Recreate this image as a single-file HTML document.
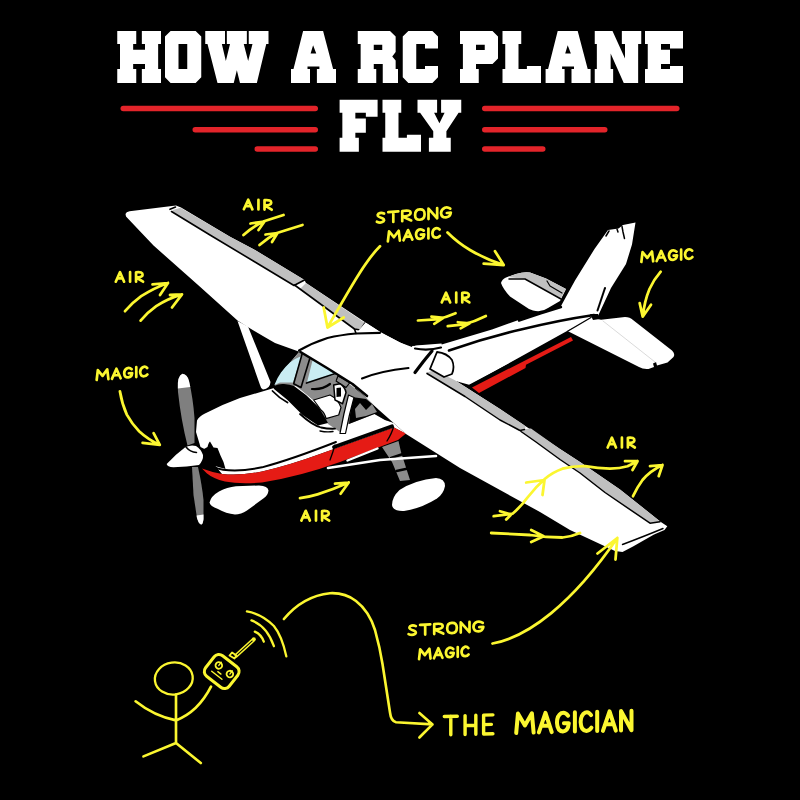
<!DOCTYPE html>
<html><head><meta charset="utf-8"><title>How a RC plane fly</title>
<style>html,body{margin:0;padding:0;background:#000;}body{width:800px;height:800px;overflow:hidden;font-family:"Liberation Sans",sans-serif;}svg{display:block}</style>
</head><body>
<svg width="800" height="800" viewBox="0 0 800 800">
<rect width="800" height="800" fill="#000"/>
<path d="M117.25,30.90 L136.25,30.90 L136.25,43.90 L133.15,43.90 L133.15,49.65 L145.00,49.65 L145.00,43.90 L141.85,43.90 L141.85,30.90 L161.00,30.90 L161.00,43.90 L158.15,43.90 L158.15,68.90 L161.00,68.90 L161.00,82.90 L141.85,82.90 L141.85,68.90 L145.00,68.90 L145.00,63.90 L133.15,63.90 L133.15,68.90 L136.25,68.90 L136.25,82.90 L117.25,82.90 L117.25,68.90 L120.00,68.90 L120.00,43.90 L117.25,43.90Z" fill="#fff" fill-rule="evenodd"/>
<path d="M170.60,30.90 L195.65,30.90 L201.25,36.50 L201.25,77.30 L195.65,82.90 L170.60,82.90 L165.00,77.30 L165.00,36.50Z M178.50,44.00 L178.50,69.00 L187.25,69.00 L187.25,44.00Z" fill="#fff" fill-rule="evenodd"/>
<path d="M205.25,30.90 L225.00,30.90 L225.00,43.90 L221.85,43.90 L225.85,60.90 L230.00,43.90 L226.85,43.90 L226.85,30.90 L246.85,30.90 L246.85,43.90 L243.75,43.90 L248.15,60.90 L252.50,43.90 L248.75,43.90 L248.75,30.90 L268.50,30.90 L268.50,43.90 L266.25,43.90 L256.85,82.90 L240.00,82.90 L236.85,70.30 L233.75,82.90 L217.50,82.90 L207.50,43.90 L205.25,43.90Z" fill="#fff" fill-rule="evenodd"/>
<path d="M303.10,30.90 L323.10,30.90 L333.10,68.90 L336.00,68.90 L336.00,82.90 L316.90,82.90 L316.90,68.90 L319.40,68.90 L319.40,66.50 L307.50,66.50 L307.50,68.90 L310.00,68.90 L310.00,82.90 L291.00,82.90 L291.00,68.90 L293.50,68.90Z M313.10,45.30 L310.60,53.40 L316.25,53.40Z" fill="#fff" fill-rule="evenodd"/>
<path d="M357.75,30.90 L390.00,30.90 L395.65,36.50 L395.65,51.90 L392.25,56.40 L395.65,60.40 L395.65,68.90 L398.00,68.90 L398.00,82.90 L382.75,82.90 L382.75,63.90 L373.75,63.90 L373.75,68.90 L376.25,68.90 L376.25,82.90 L357.75,82.90 L357.75,68.90 L360.65,68.90 L360.65,43.90 L357.75,43.90Z M373.75,44.65 L373.75,50.00 L382.25,50.00 L382.25,44.65Z" fill="#fff" fill-rule="evenodd"/>
<path d="M408.35,30.90 L432.40,30.90 L438.00,36.50 L438.00,48.40 L425.00,48.40 L425.00,44.00 L416.25,44.00 L416.25,69.00 L425.00,69.00 L425.00,65.90 L438.00,65.90 L438.00,77.30 L432.40,82.90 L408.35,82.90 L402.75,77.30 L402.75,36.50Z" fill="#fff" fill-rule="evenodd"/>
<path d="M460.00,30.90 L492.50,30.90 L498.00,36.50 L498.00,58.40 L492.50,64.00 L476.00,64.00 L476.00,68.90 L478.75,68.90 L478.75,82.90 L460.00,82.90 L460.00,68.90 L462.90,68.90 L462.90,43.90 L460.00,43.90Z M476.00,44.65 L476.00,50.00 L484.75,50.00 L484.75,44.65Z" fill="#fff" fill-rule="evenodd"/>
<path d="M502.50,30.90 L521.25,30.90 L521.25,43.90 L518.50,43.90 L518.50,68.90 L526.90,68.90 L526.90,65.90 L541.00,65.90 L541.00,82.90 L502.50,82.90 L502.50,68.90 L505.25,68.90 L505.25,43.90 L502.50,43.90Z" fill="#fff" fill-rule="evenodd"/>
<path d="M557.70,30.90 L577.70,30.90 L587.70,68.90 L590.60,68.90 L590.60,82.90 L571.50,82.90 L571.50,68.90 L574.00,68.90 L574.00,66.50 L562.10,66.50 L562.10,68.90 L564.60,68.90 L564.60,82.90 L545.60,82.90 L545.60,68.90 L548.10,68.90Z M567.70,45.30 L565.20,53.40 L570.85,53.40Z" fill="#fff" fill-rule="evenodd"/>
<path d="M594.75,30.90 L612.50,30.90 L625.00,58.40 L625.00,43.90 L621.85,43.90 L621.85,30.90 L641.25,30.90 L641.25,43.90 L638.15,43.90 L638.15,82.90 L623.75,82.90 L610.65,53.40 L610.65,68.90 L613.15,68.90 L613.15,82.90 L594.75,82.90 L594.75,68.90 L596.85,68.90 L596.85,43.90 L594.75,43.90Z" fill="#fff" fill-rule="evenodd"/>
<path d="M645.00,30.90 L683.00,30.90 L683.00,48.40 L670.00,48.40 L670.00,44.00 L661.00,44.00 L661.00,49.65 L670.00,49.65 L670.00,64.00 L661.00,64.00 L661.00,69.00 L670.00,69.00 L670.00,65.90 L683.00,65.90 L683.00,82.90 L645.00,82.90 L645.00,68.90 L647.75,68.90 L647.75,43.90 L645.00,43.90Z" fill="#fff" fill-rule="evenodd"/>
<path d="M339.60,99.70 L377.60,99.70 L377.60,116.70 L365.85,116.70 L365.85,112.80 L355.35,112.80 L355.35,118.45 L365.85,118.45 L365.85,132.80 L355.35,132.80 L355.35,137.70 L358.85,137.70 L358.85,151.70 L339.60,151.70 L339.60,137.70 L342.35,137.70 L342.35,112.70 L339.60,112.70Z" fill="#fff" fill-rule="evenodd"/>
<path d="M382.50,99.70 L401.25,99.70 L401.25,112.70 L398.50,112.70 L398.50,137.70 L406.90,137.70 L406.90,134.70 L421.00,134.70 L421.00,151.70 L382.50,151.70 L382.50,137.70 L385.25,137.70 L385.25,112.70 L382.50,112.70Z" fill="#fff" fill-rule="evenodd"/>
<path d="M417.50,99.70 L437.10,99.70 L437.10,112.70 L434.10,112.70 L439.40,123.30 L444.60,112.70 L441.10,112.70 L441.10,99.70 L461.25,99.70 L461.25,112.70 L458.60,112.70 L446.40,131.20 L446.40,137.70 L450.75,137.70 L450.75,151.70 L428.90,151.70 L428.90,137.70 L433.25,137.70 L433.25,131.20 L420.10,112.70 L417.50,112.70Z" fill="#fff" fill-rule="evenodd"/>
<line x1="123.25" y1="108.4" x2="315.25" y2="108.4" stroke="#e3242a" stroke-width="5.5" stroke-linecap="round"/>
<line x1="195.25" y1="129.7" x2="315.25" y2="129.7" stroke="#e3242a" stroke-width="5.5" stroke-linecap="round"/>
<line x1="257.25" y1="148.9" x2="315.25" y2="148.9" stroke="#e3242a" stroke-width="5.5" stroke-linecap="round"/>
<line x1="484.75" y1="108.4" x2="676.75" y2="108.4" stroke="#e3242a" stroke-width="5.5" stroke-linecap="round"/>
<line x1="484.75" y1="129.7" x2="604.75" y2="129.7" stroke="#e3242a" stroke-width="5.5" stroke-linecap="round"/>
<line x1="484.75" y1="148.9" x2="542.75" y2="148.9" stroke="#e3242a" stroke-width="5.5" stroke-linecap="round"/>
<path d="M501,283 Q502,279 506,277.5 L516,274 Q524,271.5 530,272.5 L546,278.5 L566,289 L560,301 L548,308 Q541,313 533,310.5 L529,309 L510,296.5 Q503,289 501,283Z" fill="#ffffff" />
<path d="M508,277 L516,274 Q524,271.5 530,272.5 L546,278.5 L566,289 L561,298 L525,279 Z" fill="#c0c0c0" />
<path d="M509,279 L525,279 L561,299" fill="none" stroke="#000000" stroke-width="1.5" stroke-linecap="round" stroke-linejoin="round"/>
<path d="M547,281 L550,286 L562,293" fill="none" stroke="#000000" stroke-width="1.2" stroke-linecap="round" stroke-linejoin="round"/>
<path d="M608,230 L618.5,228.5 L623,225 L635.5,222.5 L632,244.5 L626,264 L611,288 L598,316 L560,310 L561,306 L575,280.5 L594.5,249 Z" fill="#ffffff" />
<path d="M622,226.5 L623,232 L624.5,238.5" fill="none" stroke="#000000" stroke-width="1.5" stroke-linecap="round" stroke-linejoin="round"/>
<path d="M617,229 L618,232" fill="none" stroke="#000000" stroke-width="1.5" stroke-linecap="round" stroke-linejoin="round"/>
<path d="M605,288 L597.5,310.5" fill="none" stroke="#000000" stroke-width="2" stroke-linecap="round" stroke-linejoin="round"/>
<path d="M609,231 L606,236" fill="none" stroke="#000000" stroke-width="1.5" stroke-linecap="round" stroke-linejoin="round"/>
<path d="M412,346 L440,345 L492,329.5 L520,319.5 L561,307 L598,314 L592,318 L567,331 L497,370 L470,385 L430,374 L420,372 Z" fill="#ffffff" />
<path d="M519,320.5 L540,313.5 L561,307" fill="none" stroke="#000000" stroke-width="2.4" stroke-linecap="round" stroke-linejoin="round"/>
<path d="M449,350.5 Q485,338 521,329.5 Q560,320 594,315" fill="none" stroke="#000000" stroke-width="2.6" stroke-linecap="round" stroke-linejoin="round"/>
<path d="M472,387.5 L571,337 L573,340.5 L526,364.8 L525.5,368 L479,393 Z" fill="#e51b15" />
<path d="M470,385.5 L505,367 L569,333.5" fill="none" stroke="#000000" stroke-width="2.2" stroke-linecap="round" stroke-linejoin="round"/>
<path d="M590,317 L601,319.7 L625,317 Q630,317 633,320 L672,350.5 Q675.5,354 673.5,357 L667.5,362.5 L657,365.5 L656,362 L653,363.5 L654,367 L648.5,369 Q643,369.5 639,367 L567.5,331 Z" fill="#ffffff" />
<path d="M603,321 L655,362" fill="none" stroke="#d0d0d0" stroke-width="0.8" stroke-linecap="round" stroke-linejoin="round"/>
<path d="M590,314 L598,314 L600,319 L593,320Z" fill="#000000" />
<path d="M568,331 L591,317.5" fill="none" stroke="#000000" stroke-width="1.4" stroke-linecap="round" stroke-linejoin="round"/>
<path d="M125.5,214 Q126,212 129.5,211.3 L176,205.5 L181,207.5 L230,236.7 L255,250 L304.5,280 L306,283 L365.5,322.5 L381,332.5 L400,342.5 L420,352 L352,390 L300,352 L275,343 Q252,330 237.5,320.5 L200,286.75 L153.5,245.5 L126,216.5 Z" fill="#ffffff" />
<path d="M173,210 L180.5,207.7 L230,236.7 L255,250 L304.5,280 L294,285.5 L255,262 L210,235 L171.5,211.5Z" fill="#c0c0c0" />
<path d="M170,209.3 L175.5,207 M171.5,211.5 L210,235 L255,262 L294,285.5 L304.5,280" fill="none" stroke="#000000" stroke-width="1.6" stroke-linecap="round" stroke-linejoin="round"/>
<path d="M306,283 L365,323 L360.5,330 L354.5,329 L300,289 Z" fill="#c0c0c0" />
<path d="M294.5,285 L300,289 L354.5,329 L360.5,330 L365,323" fill="none" stroke="#000000" stroke-width="1.6" stroke-linecap="round" stroke-linejoin="round"/>
<path d="M237.5,321 L248,326.5 L270.5,382 Q270,389 263,389.5 Q260.5,388 260,385 Z" fill="#ffffff" />
<path d="M197,420.5 Q199,416.5 205,413.5 Q222,404.5 240,398 L274,388 L282,372 L300,351 L352,386 L406,434 L394,427.5 L320,454 Q290,465 262,471.5 Q240,476 222,474 L213,463 L206.5,450 L200.5,447 L196,432 Z" fill="#ffffff" />
<path d="M202,468.5 Q211,472 222,474 Q240,476 262,471.5 Q290,465 320,454 L394,427.5 L406,433.5 L398,440 L340,462 Q300,476.5 262,482.5 Q240,484.5 225,481.5 Q213,478.5 207,473.5 Z" fill="#e51b15" />
<path d="M206,462 Q213,468 223,469.7 Q240,472 262,467.3 Q290,460 336,442" fill="none" stroke="#000000" stroke-width="1.9" stroke-linecap="round" stroke-linejoin="round"/>
<path d="M334,447 L392,426.3" fill="none" stroke="#000000" stroke-width="3.8" stroke-linecap="round" stroke-linejoin="round"/>
<path d="M330,460 Q333,452 335,445 M387,441 Q392,433 393.5,427" fill="none" stroke="#000000" stroke-width="1.3" stroke-linecap="round" stroke-linejoin="round"/>
<path d="M274,387 L282,372 L300,351 L352,386 L397,424 L385,420 L374.5,414 L346,425 L340,432 L328,424 L316,402 L296,386 Z" fill="#8c8c8c" />
<path d="M352,397 L366,399 L397,424 L385,420 L374.5,414 L349,424 Z" fill="#000000" />
<path d="M355,409 L360,403 L366,410 L372,404 L377,412 L366,416 L356,418Z" fill="#8c8c8c" />
<path d="M274.4,385 Q277,378 281,372.5 Q285,367 290,362.5 Q296,358 301.5,356 L293,382.5 L280,382.5 Z" fill="#c9edf3" />
<path d="M313,358.5 L336,374.4 L307,382.5 Z" fill="#c9edf3" />
<path d="M302.5,352.5 L311,354.4 L301,387.5 L293.7,383.7 Z" fill="#8c8c8c" stroke="#000000" stroke-width="1.6" stroke-linejoin="round" stroke-linecap="round" />
<path d="M311,355 L337,373 L306.5,383" fill="none" stroke="#000000" stroke-width="1.8" stroke-linecap="round" stroke-linejoin="round"/>
<path d="M338,376 L350,382.5 L346,387.5 L336,381 Z" fill="#8c8c8c" stroke="#000000" stroke-width="1.2" stroke-linejoin="round" stroke-linecap="round" />
<path d="M307,385 L336,377 L333,395 L313,400 L302,390 Z" fill="#8c8c8c" />
<path d="M312,389 Q322,390 330,384" fill="none" stroke="#000000" stroke-width="2.2" stroke-linecap="round" stroke-linejoin="round"/>
<path d="M274,386 Q279,383.5 284,384 Q290,384.5 294,386 L306,395 L319,407.5 L325,417.5 L328,423 L318,425.5 L302.5,415 L287.5,400 L273.7,388.7 Z" fill="#000000" />
<path d="M313.7,400 L330,395 Q338,399 341,407.5 L338.7,415 L326,418.7 Q325,413 321,410 Z" fill="#ffffff" stroke="#000000" stroke-width="1.2" stroke-linejoin="round" stroke-linecap="round" />
<path d="M326.5,420 L338,416.5 L336,422.5 Z" fill="#8c8c8c" />
<path d="M333.7,385 L340,383.7 Q345,387 346,392.5 L342.5,403.7 L335,400 Z" fill="#ffffff" stroke="#000000" stroke-width="1.5" stroke-linejoin="round" stroke-linecap="round" />
<path d="M336.5,388 L341,387.5 L341,396.5 L336.5,397Z" fill="#000000" />
<path d="M348.5,395 L354,397.5 Q349,415 345.5,433.5 L340,433.5 Q343.5,414 348.5,395Z" fill="#ffffff" stroke="#000000" stroke-width="1.2" stroke-linejoin="round" stroke-linecap="round" />
<path d="M272.5,391 Q279,398 287.5,402.5" fill="none" stroke="#000000" stroke-width="1.8" stroke-linecap="round" stroke-linejoin="round"/>
<path d="M300,414 Q312,425 321,427.5 Q328,429 335,428.7" fill="none" stroke="#000000" stroke-width="1.8" stroke-linecap="round" stroke-linejoin="round"/>
<path d="M320,431 Q327,432.5 333,431.5" fill="none" stroke="#000000" stroke-width="1.4" stroke-linecap="round" stroke-linejoin="round"/>
<path d="M204,449 L207.5,447 Q208.5,442.5 210,441.5 L213.5,447.5 L217.5,448 L220.5,455.5 L223.5,462 L225.5,469 L213,465.5 Q206,459 204,452 Z" fill="#000000" />
<path d="M382,447 L398.5,441 L401,452 L410,480 L400,481 L392,462 Z" fill="#8c8c8c" />
<path d="M391,458 L403,454 M396.5,471 L408,468.5" fill="none" stroke="#000000" stroke-width="2.5" stroke-linecap="round" stroke-linejoin="round"/>
<path d="M392,505 Q392,497 399.5,490 Q415,480 436,478 Q445,478.5 445,486 Q443.5,494 437,498.5 Q421,508.5 404,511 Q393,511.5 392,505Z" fill="#ffffff" />
<path d="M328,468 L380,460 L436,456" fill="none" stroke="#ffffff" stroke-width="2.6" stroke-linecap="round" stroke-linejoin="round"/>
<path d="M347.5,460.5 L377.5,448.5" fill="none" stroke="#ffffff" stroke-width="2.4" stroke-linecap="round" stroke-linejoin="round"/>
<path d="M209.5,502.5 Q211,496 219,491.5 Q227,487 236,486.2 L259,485.5 Q268,486 268.5,490.5 Q268,495 264,498 L247,510.5 Q241,514.5 235,514.5 Q226,513.5 218,509 Q210,506 209.5,502.5Z" fill="#ffffff" />
<path d="M300,351 L327.5,338 L356,333.5 L365.5,322.5 L381,332.5 L400,342.5 L412,347 L416,345.5 L426,372.5 L435,370.2 L454.5,380 L500,409 L526,426.5 L560,449 L580,462 L620,489.5 L660.5,521.7 L667.3,526.2 L664.5,530 L654,534.5 L633,546.5 L622.5,552 L615,551 L570,530 L540,512 L460,468 L406,434 L379,410 L351,383.5 Z" fill="#ffffff" />
<path d="M426,372.5 L435,370.2 L454.5,380 L500,409 L524,425 Q527,427.5 524,429.5 L519,431 L500,420 L465,396.5 L429,374.7 Z" fill="#c0c0c0" />
<path d="M521,431.5 Q526,428 531,428.5 L560,449 L580,462 L620,489.5 L660.5,521.7 L650,523.2 L605,492.5 L580,473 L560,459.5 L536,442 Z" fill="#c0c0c0" />
<path d="M427,373.5 L465,396.5 L500,420 L520,430.5 L524.5,429.5 M521,431.5 L536,442 L560,459.5 L580,473 L605,492.5 L650,523.2 L660,521.7" fill="none" stroke="#000000" stroke-width="1.5" stroke-linecap="round" stroke-linejoin="round"/>
<path d="M622.5,544.5 Q645,536 663,528.5" fill="none" stroke="#000000" stroke-width="1.4" stroke-linecap="round" stroke-linejoin="round"/>
<path d="M416,345.5 L441.5,343.5 L442,346 L417,348.5Z" fill="#ffffff" />
<path d="M300.5,352 L327,368 L352.5,384 L367,396" fill="none" stroke="#000000" stroke-width="2.6" stroke-linecap="round" stroke-linejoin="round"/>
<path d="M299,350.5 Q312,343 327.5,338 Q340,335 356,333.5 L380,332.8" fill="none" stroke="#000000" stroke-width="2.2" stroke-linecap="round" stroke-linejoin="round"/>
<path d="M362,378.5 Q380,371 408.5,368" fill="none" stroke="#000000" stroke-width="2" stroke-linecap="round" stroke-linejoin="round"/>
<path d="M415,348.5 Q428,351 441,347.5" fill="none" stroke="#000000" stroke-width="2.2" stroke-linecap="round" stroke-linejoin="round"/>
<path d="M432,351 Q427,357 423,362 L415,372.5" fill="none" stroke="#000000" stroke-width="3.2" stroke-linecap="round" stroke-linejoin="round"/>
<path d="M437,352 Q447,353 452,360 Q455,367 452,374 L444,377 L430,369 Z" fill="#ffffff" stroke="#000000" stroke-width="1.8" stroke-linejoin="round" stroke-linecap="round" />
<path d="M356,333.5 L354.5,329" fill="none" stroke="#000000" stroke-width="1.6" stroke-linecap="round" stroke-linejoin="round"/>
<path d="M182.5,373.7 Q187.5,374.5 189,381 Q193,398 194.5,418 L194.5,443 L187.5,445.5 Q181,420 178,392 Q177,376 182.5,373.7Z" fill="#7f7f7f" />
<path d="M182.5,373.7 Q187.5,374.5 189,381 L190.3,387 L177.9,388.5 Q177,376 182.5,373.7Z" fill="#ffffff" />
<path d="M192,467 L198,467 Q202,485 203.5,500 L203.5,519 Q203,524.5 201,524.5 Q198.5,523.5 197,518 L193.5,495 Z" fill="#7f7f7f" />
<path d="M203.5,514.5 L203.5,519 Q203,524.5 201,524.5 Q198.5,523.5 197,518 L196.6,515.5 Z" fill="#ffffff" />
<path d="M166.7,464 Q176,454 185.5,447 Q191,444.5 196,446 Q201,449 203,455 Q203.5,460 199,465 Q187,467 173.5,467.3 Q167,467 166.7,464Z" fill="#ffffff" />
<path d="M186,447 Q190,452 196.5,452.5" fill="none" stroke="#000000" stroke-width="1.5" stroke-linecap="round" stroke-linejoin="round"/>
<!--PART4-->
<path d="M 243.86,209.21 L 248.22,199.74 L 252.35,209.37 M 245.69,206.00 L 250.75,206.09 M 258.44,199.92 L 258.44,209.48 M 264.52,209.59 L 264.52,200.22 Q 271.41,199.58 271.18,202.82 Q 270.95,205.31 264.75,205.39 L 271.64,209.71" fill="none" stroke="#fbf630" stroke-width="2.7139999999999995" stroke-linecap="round" stroke-linejoin="round"/>
<path d="M 115.76,281.71 L 120.04,272.16 L 124.10,281.71 M 117.56,278.46 L 122.52,278.46 M 130.08,272.16 L 130.08,281.71 M 136.05,281.71 L 136.05,272.35 Q 142.82,271.58 142.59,274.83 Q 142.37,277.32 136.28,277.51 L 143.04,281.71" fill="none" stroke="#fbf630" stroke-width="2.7139999999999995" stroke-linecap="round" stroke-linejoin="round"/>
<path d="M 96.66,380.01 L 97.83,370.07 L 102.54,375.83 L 107.24,369.37 L 108.41,379.13 M 111.94,378.87 L 116.41,368.68 L 120.64,378.22 M 113.82,375.38 L 118.99,374.99 M 131.69,369.21 Q 129.57,367.30 127.22,368.17 Q 124.17,369.68 124.17,373.22 Q 124.40,377.54 128.16,377.46 Q 131.69,377.10 132.16,373.02 L 128.87,373.27 M 136.27,367.19 L 136.27,377.05 M 147.21,368.05 Q 145.44,366.21 143.33,366.96 Q 140.15,368.38 140.15,372.03 Q 140.39,376.35 144.03,376.27 Q 146.03,376.12 147.44,374.44" fill="none" stroke="#fbf630" stroke-width="2.7139999999999995" stroke-linecap="round" stroke-linejoin="round"/>
<path d="M 384.07,213.52 Q 381.18,211.99 378.59,213.55 Q 375.99,216.03 380.46,217.43 Q 385.80,218.97 383.35,221.45 Q 380.46,223.54 376.86,221.76 M 388.25,212.14 L 398.35,211.33 M 393.30,211.74 L 393.30,221.89 M 402.24,221.16 L 402.24,211.01 Q 410.90,209.49 410.61,213.03 Q 410.32,215.75 402.53,216.58 L 411.19,220.44 M 419.84,209.39 Q 415.08,209.77 415.08,214.95 Q 415.08,220.13 419.84,219.74 Q 424.60,219.36 424.60,214.18 Q 424.60,209.00 419.84,209.39 Z M 428.50,219.04 L 428.50,208.69 L 437.15,218.34 L 437.15,207.99 M 450.28,208.69 Q 447.68,206.72 444.80,207.68 Q 441.05,209.33 441.05,213.06 Q 441.33,217.59 445.95,217.43 Q 450.28,216.97 450.85,212.68 L 446.82,213.01" fill="none" stroke="#fbf630" stroke-width="2.7139999999999995" stroke-linecap="round" stroke-linejoin="round"/>
<path d="M 387.86,241.41 L 389.06,231.47 L 393.87,237.23 L 398.69,230.77 L 399.89,240.53 M 403.50,240.27 L 408.07,230.08 L 412.41,239.62 M 405.43,236.78 L 410.72,236.39 M 423.72,230.61 Q 421.55,228.70 419.14,229.57 Q 416.02,231.08 416.02,234.62 Q 416.26,238.94 420.11,238.86 Q 423.72,238.50 424.20,234.42 L 420.83,234.67 M 428.41,228.59 L 428.41,238.45 M 439.60,229.45 Q 437.80,227.61 435.63,228.36 Q 432.38,229.78 432.38,233.43 Q 432.62,237.75 436.35,237.67 Q 438.40,237.52 439.84,235.84" fill="none" stroke="#fbf630" stroke-width="2.7139999999999995" stroke-linecap="round" stroke-linejoin="round"/>
<path d="M 441.76,302.41 L 446.09,292.66 L 450.19,302.41 M 443.58,299.10 L 448.60,299.10 M 456.23,292.66 L 456.23,302.41 M 462.28,302.41 L 462.28,292.85 Q 469.12,292.07 468.89,295.39 Q 468.66,297.93 462.50,298.12 L 469.34,302.41" fill="none" stroke="#fbf630" stroke-width="2.7139999999999995" stroke-linecap="round" stroke-linejoin="round"/>
<path d="M 641.36,262.01 L 642.54,252.08 L 647.26,257.90 L 651.98,251.49 L 653.16,261.27 M 656.70,261.05 L 661.18,250.91 L 665.43,260.50 M 658.59,257.58 L 663.78,257.26 M 676.53,251.63 Q 674.40,249.69 672.04,250.53 Q 668.97,252.00 668.97,255.55 Q 669.21,259.87 672.99,259.83 Q 676.53,259.51 677.00,255.44 L 673.70,255.65 M 681.13,249.66 L 681.13,259.52 M 692.11,250.65 Q 690.34,248.79 688.21,249.51 Q 685.03,250.89 685.03,254.54 Q 685.26,258.86 688.92,258.83 Q 690.93,258.71 692.34,257.04" fill="none" stroke="#fbf630" stroke-width="2.7139999999999995" stroke-linecap="round" stroke-linejoin="round"/>
<path d="M 607.66,447.51 L 611.93,437.66 L 615.97,447.51 M 609.45,444.16 L 614.40,444.16 M 621.92,437.66 L 621.92,447.51 M 627.88,447.51 L 627.88,437.85 Q 634.62,437.07 634.39,440.42 Q 634.17,442.98 628.10,443.18 L 634.84,447.51" fill="none" stroke="#fbf630" stroke-width="2.7139999999999995" stroke-linecap="round" stroke-linejoin="round"/>
<path d="M 301.36,520.61 L 305.74,510.86 L 309.88,520.61 M 303.20,517.30 L 308.27,517.30 M 315.99,510.86 L 315.99,520.61 M 322.10,520.61 L 322.10,511.05 Q 329.01,510.27 328.78,513.59 Q 328.55,516.13 322.33,516.32 L 329.24,520.61" fill="none" stroke="#fbf630" stroke-width="2.7139999999999995" stroke-linecap="round" stroke-linejoin="round"/>
<path d="M 415.85,626.17 Q 412.93,624.60 410.31,626.07 Q 407.68,628.45 412.20,629.93 Q 417.60,631.56 415.12,633.93 Q 412.20,635.92 408.56,634.09 M 420.08,624.92 L 430.28,624.35 M 425.18,624.63 L 425.18,634.58 M 434.22,634.08 L 434.22,624.12 Q 442.97,622.82 442.67,626.29 Q 442.38,628.95 434.51,629.59 L 443.26,633.57 M 452.00,622.93 Q 447.19,623.20 447.19,628.27 Q 447.19,633.35 452.00,633.08 Q 456.82,632.81 456.82,627.74 Q 456.82,622.66 452.00,622.93 Z M 460.75,632.59 L 460.75,622.44 L 469.50,632.11 L 469.50,621.95 M 482.77,622.93 Q 480.14,620.95 477.23,621.82 Q 473.44,623.35 473.44,627.01 Q 473.73,631.46 478.39,631.40 Q 482.77,631.06 483.35,626.86 L 479.27,627.09" fill="none" stroke="#fbf630" stroke-width="2.7139999999999995" stroke-linecap="round" stroke-linejoin="round"/>
<path d="M 419.06,659.21 L 420.20,649.29 L 424.80,655.12 L 429.39,648.73 L 430.54,658.52 M 433.98,658.31 L 438.34,648.19 L 442.47,657.80 M 435.82,654.85 L 440.87,654.54 M 453.26,648.96 Q 451.20,647.02 448.90,647.85 Q 445.92,649.31 445.92,652.86 Q 446.15,657.18 449.82,657.16 Q 453.26,656.85 453.72,652.78 L 450.51,652.97 M 457.74,647.02 L 457.74,656.87 M 468.41,648.05 Q 466.69,646.18 464.63,646.90 Q 461.53,648.27 461.53,651.91 Q 461.76,656.24 465.31,656.22 Q 467.27,656.10 468.64,654.44" fill="none" stroke="#fbf630" stroke-width="2.7139999999999995" stroke-linecap="round" stroke-linejoin="round"/>
<path d="M 444.31,716.49 L 457.29,716.17 M 450.80,716.33 L 450.80,734.87 M 465.08,715.60 L 465.08,734.52 M 475.83,715.33 L 475.83,734.25 M 465.08,725.44 L 475.83,725.17 M 492.89,714.91 L 483.62,715.14 L 483.62,734.06 L 492.89,733.83 M 483.62,724.60 L 491.41,724.41" fill="none" stroke="#fbf630" stroke-width="3.4219999999999997" stroke-linecap="round" stroke-linejoin="round"/>
<path d="M 516.21,733.00 L 517.95,713.56 L 524.91,725.42 L 531.88,713.23 L 533.62,732.57 M 538.85,732.45 L 545.46,712.90 L 551.73,732.13 M 541.63,725.79 L 549.29,725.60 M 568.10,715.64 Q 564.97,711.65 561.49,713.09 Q 556.96,715.72 556.96,722.70 Q 557.31,731.22 562.88,731.47 Q 568.10,731.15 568.80,723.19 L 563.92,723.31 M 574.89,712.18 L 574.89,731.57 M 591.09,715.08 Q 588.48,711.27 585.34,712.51 Q 580.64,714.95 580.64,722.12 Q 580.99,730.65 586.39,730.90 Q 589.35,730.83 591.44,727.68 M 597.19,711.64 L 597.19,731.03 M 602.93,730.89 L 609.55,711.34 L 615.82,730.58 M 605.72,724.23 L 613.38,724.04 M 621.04,730.45 L 621.04,711.06 L 631.49,730.20 L 631.49,710.81" fill="none" stroke="#fbf630" stroke-width="4.012" stroke-linecap="round" stroke-linejoin="round"/>
<path d="M243.5,235 Q253,226.5 264,221.3 L283.5,215 M250.5,223.5 L264.5,221.5 L258.5,230" fill="none" stroke="#fbf630" stroke-width="2.76" stroke-linecap="round" stroke-linejoin="round"/>
<path d="M259.5,245 Q268,237.5 277,233 L302.5,225 M265.5,234.5 L277.5,233 L272,242" fill="none" stroke="#fbf630" stroke-width="2.76" stroke-linecap="round" stroke-linejoin="round"/>
<path d="M125,311.2 Q133,302 141.2,296.2 Q154,288 168,283 M152.5,284.4 L168,283 L160,295" fill="none" stroke="#fbf630" stroke-width="2.76" stroke-linecap="round" stroke-linejoin="round"/>
<path d="M140.6,320.6 Q148,312 156.2,306.2 Q168,298.5 182,294.4 M170,295 L182,294.4 L172,307.5" fill="none" stroke="#fbf630" stroke-width="2.76" stroke-linecap="round" stroke-linejoin="round"/>
<path d="M119.9,391.3 Q122,404 126.8,414.6 Q132,424 139.1,431.2 Q148,439.5 159.8,444.9 M142.6,442.8 L159.8,444.9 L153.6,433.2" fill="none" stroke="#fbf630" stroke-width="2.76" stroke-linecap="round" stroke-linejoin="round"/>
<path d="M380,246.3 C366,260 352,285 327.5,327.5 M323.7,307.5 L327.5,327.5 L343.7,317.5" fill="none" stroke="#fbf630" stroke-width="2.76" stroke-linecap="round" stroke-linejoin="round"/>
<path d="M447.5,232.5 Q458,243 470,250 Q485,259 503.7,265 M483.7,263.7 L503.7,265 L495,251.2" fill="none" stroke="#fbf630" stroke-width="2.76" stroke-linecap="round" stroke-linejoin="round"/>
<path d="M417.9,320.5 L435.9,319.4 Q446,317.5 455.6,313.2 M431.4,316.6 L443.7,317.7 L434.2,323.9" fill="none" stroke="#fbf630" stroke-width="2.6449999999999996" stroke-linecap="round" stroke-linejoin="round"/>
<path d="M447.7,326.1 L464,324.4 Q475,321.5 485.9,316 M457.8,322.2 L469.6,323.3 L460.6,328.4" fill="none" stroke="#fbf630" stroke-width="2.6449999999999996" stroke-linecap="round" stroke-linejoin="round"/>
<path d="M660.7,271.7 Q653.5,280 649.5,289 Q644.5,301 642.7,316.7 M639.7,303.2 L642.7,316.7 L651,304.7" fill="none" stroke="#fbf630" stroke-width="2.76" stroke-linecap="round" stroke-linejoin="round"/>
<path d="M493.7,516.2 L512.5,513.7 Q520.5,507 527.5,497.5 Q536,486.5 545,478.7 Q553,472 562.5,468.7 Q573,466 585,466.2 Q598,468.5 610,468.7 Q620,468.5 627.5,466.2 L637.5,461.2 M625,461.2 L637.5,461.2 L632.5,470 M500,511.2 L511.2,514.5 L506.2,519.5 M526.2,482.5 L544.5,480 L542.5,495" fill="none" stroke="#fbf630" stroke-width="2.76" stroke-linecap="round" stroke-linejoin="round"/>
<path d="M633,496.2 Q637,487.5 642.5,480 Q650,471 662.5,465 M650,466.2 L662.5,465 L658.7,476.2" fill="none" stroke="#fbf630" stroke-width="2.76" stroke-linecap="round" stroke-linejoin="round"/>
<path d="M491.2,533 L530,535 Q546,537.5 562.5,537.5 Q572,536.5 580,533 M531.2,530 L543.7,536.2 L531.2,542" fill="none" stroke="#fbf630" stroke-width="2.76" stroke-linecap="round" stroke-linejoin="round"/>
<path d="M300,498.1 Q309,497 317.5,494.4 Q333,489.5 348.7,482.5 M335,483.7 L348.7,482.5 L340.6,493.7" fill="none" stroke="#fbf630" stroke-width="2.76" stroke-linecap="round" stroke-linejoin="round"/>
<path d="M492.5,643.5 C528,637 572,604 617.3,538 M597.5,553.5 L617.3,538 L615.5,559.5" fill="none" stroke="#fbf630" stroke-width="2.76" stroke-linecap="round" stroke-linejoin="round"/>
<ellipse cx="173.8" cy="678.5" rx="19" ry="16" fill="none" stroke="#fbf630" stroke-width="2.3" transform="rotate(-8 173.8 678.5)"/>
<path d="M176,694.6 L176,743 M135.6,701.3 Q154,716 176,720.4 Q198,712 211,686.7 M143.5,756.4 L176,743 L200.8,763" fill="none" stroke="#fbf630" stroke-width="2.6449999999999996" stroke-linecap="round" stroke-linejoin="round"/>
<g transform="translate(221.7,671.5) rotate(38)"><rect x="-15" y="-13" width="30" height="26" rx="6" ry="6" fill="none" stroke="#fbf630" stroke-width="3"/><circle cx="-6" cy="-3" r="3.3" fill="none" stroke="#fbf630" stroke-width="1.8"/><circle cx="8" cy="-3" r="3.3" fill="none" stroke="#fbf630" stroke-width="1.8"/><path d="M-6,-3 L-6,-7 M8,-3 L8,-7 M-8,6 L5,6 M-3,2.5 L1,2.5" stroke="#fbf630" stroke-width="1.4" fill="none" stroke-linecap="round"/></g>
<path d="M229.5,655.5 L234.5,658.5 L236.5,655.5 L232,652.5Z" fill="none" stroke="#fbf630" stroke-width="1.8399999999999999" stroke-linecap="round" stroke-linejoin="round"/>
<path d="M235,655 L252.5,639 M236.5,657 L254,641" fill="none" stroke="#fbf630" stroke-width="1.6099999999999999" stroke-linecap="round" stroke-linejoin="round"/>
<circle cx="253.8" cy="639.3" r="2" fill="#fbf630"/>
<path d="M254.8,631.6 Q261.5,634.5 263.8,641.7" fill="none" stroke="#fbf630" stroke-width="2.3" stroke-linecap="round" stroke-linejoin="round"/>
<path d="M251.4,620.4 Q267,626 273.9,646.2" fill="none" stroke="#fbf630" stroke-width="2.3" stroke-linecap="round" stroke-linejoin="round"/>
<path d="M246.9,611.4 Q262,614 273.9,626 Q282,636 286.3,656.3" fill="none" stroke="#fbf630" stroke-width="2.3" stroke-linecap="round" stroke-linejoin="round"/>
<path d="M283.9,619 Q303,596 330,593.2 Q345,592.5 356,601 Q369,611 375,630 Q380,648 382.5,664 L390,712.5 Q391,721 396,722.3 L432.5,724.4 M419.4,713 L432.5,724.4 L419.4,737.5" fill="none" stroke="#fbf630" stroke-width="2.6449999999999996" stroke-linecap="round" stroke-linejoin="round"/>
</svg>
</body></html>
